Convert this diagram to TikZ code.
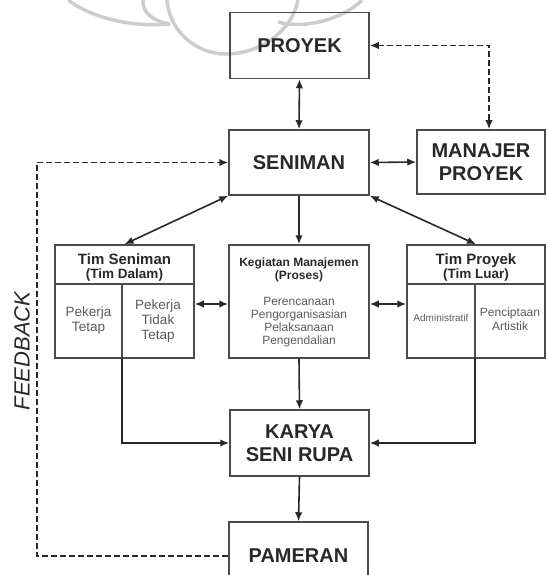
\documentclass[tikz,border=0pt]{standalone}
\usepackage{fontspec}
\setmainfont{Liberation Sans}
\usetikzlibrary{arrows.meta}
\definecolor{boxc}{RGB}{75,75,75}
\definecolor{txt}{RGB}{40,40,40}
\definecolor{soft}{RGB}{90,90,90}
\definecolor{wm}{RGB}{205,205,205}
\begin{document}
\begin{tikzpicture}[x=1pt,y=-1pt,
  box/.style={draw=boxc,line width=1.5pt,inner sep=0pt,text=txt},
  bigf/.style={font=\fontsize{20}{23.5}\selectfont\bfseries},
  hdA/.style={font=\fontsize{15}{16}\selectfont\bfseries,text=txt,anchor=base,inner sep=0pt},
  hdB/.style={font=\fontsize{13.5}{16}\selectfont\bfseries,text=txt,anchor=base,inner sep=0pt},
  kgA/.style={font=\fontsize{12}{13}\selectfont\bfseries,text=txt,anchor=base,inner sep=0pt},
  bodyA/.style={font=\fontsize{13.5}{15}\selectfont,text=soft,anchor=base,inner sep=0pt},
  bodyB/.style={font=\fontsize{12}{13}\selectfont,text=soft,anchor=base,inner sep=0pt},
  bodyC/.style={font=\fontsize{10}{12}\selectfont,text=soft,anchor=base,inner sep=0pt},
  divl/.style={draw=boxc,line width=1.1pt},
  conn/.style={draw=txt,line width=1.6pt},
  ar/.style={conn,-{Latex[length=9pt,width=7.5pt]}},
  dar/.style={conn,{Latex[length=9pt,width=7.5pt]}-{Latex[length=9pt,width=7.5pt]}},
  dsh/.style={dash pattern=on 6pt off 3pt}
]
\useasboundingbox (0,0) rectangle (546,575);
% watermark
\begin{scope}[draw=wm,line width=3.5pt]
  \draw (68,0) .. controls (95,20) and (135,27) .. (170,24);
  \draw (143,0) .. controls (142,12) and (152,21) .. (170,24);
  \draw (167,0) .. controls (170,35) and (200,54) .. (225,54) .. controls (262,54) and (292,30) .. (298,0);
  \draw (278,22) .. controls (305,30) and (345,18) .. (362,0);
\end{scope}
% boxes
\node[box,bigf,minimum width=139,minimum height=66] (proyek) at (299.5,45.5) {PROYEK};
\node[box,bigf,minimum width=140,minimum height=65] (seniman) at (299,162.5) {SENIMAN};
\node[box,bigf,align=center,minimum width=128,minimum height=64] (manajer) at (481,162) {MANAJER\\PROYEK};
\node[box,minimum width=139,minimum height=113] (timsen) at (124.5,301.5) {};
\node[box,minimum width=140,minimum height=113] (keg) at (299,301.5) {};
\node[box,minimum width=138,minimum height=113] (timpro) at (476,301.5) {};
\node[box,bigf,align=center,minimum width=139,minimum height=66] (karya) at (299.5,443) {KARYA\\SENI RUPA};
\node[box,bigf,minimum width=139,minimum height=68] (pameran) at (298.5,556) {PAMERAN};
% inner dividers
\draw[divl] (55,284) -- (194,284);
\draw[divl] (122,284) -- (122,358);
\draw[divl] (407,284) -- (545,284);
\draw[divl] (475,284) -- (475,358);
\coordinate (tsb) at (122,358);
\coordinate (tpb) at (475,358);
% Tim Seniman texts
\node[hdA] (ts1) at (124.5,264) {Tim Seniman};
\node[hdB] (ts2) at (124.5,278.5) {(Tim Dalam)};
\node[bodyA] (ts3) at (88.5,316) {Pekerja};
\node[bodyA] (ts4) at (88.5,331) {Tetap};
\node[bodyA] (ts5) at (158,309) {Pekerja};
\node[bodyA] (ts6) at (158,324) {Tidak};
\node[bodyA] (ts7) at (158,339) {Tetap};
% Kegiatan texts
\node[kgA] (kg1) at (299,266) {Kegiatan Manajemen};
\node[kgA] (kg2) at (299,279) {(Proses)};
\node[bodyB] (kg3) at (299,305) {Perencanaan};
\node[bodyB] (kg4) at (299,318) {Pengorganisasian};
\node[bodyB] (kg5) at (299,331) {Pelaksanaan};
\node[bodyB] (kg6) at (299,344) {Pengendalian};
% Tim Proyek texts
\node[hdA] (tp1) at (476,264) {Tim Proyek};
\node[hdB] (tp2) at (476,278.5) {(Tim Luar)};
\node[bodyC] (tp3) at (441,321) {Administratif};
\node[bodyB] (tp4) at (510,316) {Penciptaan};
\node[bodyB] (tp5) at (510,330) {Artistik};
% feedback label
\node[font=\fontsize{22}{22}\selectfont\itshape,text=txt,rotate=90,inner sep=0pt] (fbl) at (22,351) {FEEDBACK};
\coordinate (fbx) at (37,350);
% connectors
\draw[dar] (proyek.south) -- (seniman.north);
\draw[dar,dsh] (proyek.east) -| ([xshift=8pt]manajer.north);
\draw[dar] (seniman.east) -- (manajer.west);
\draw[dar] (seniman.south west) -- (timsen.north);
\draw[ar] (seniman.south) -- (keg.north);
\draw[dar] (seniman.south east) -- (timpro.north);
\draw[dar] ([yshift=-2.5pt]timsen.east) -- ([yshift=-2.5pt]keg.west);
\draw[dar] ([yshift=-2.5pt]keg.east) -- ([yshift=-2.5pt]timpro.west);
\draw[ar] (keg.south) -- (karya.north);
\draw[ar] (tsb) |- (karya.west);
\draw[ar] (tpb) |- (karya.east);
\draw[ar] (karya.south) -- (pameran.north);
\draw[ar,dsh] (pameran.west) -| (fbx) |- (seniman.west);
\end{tikzpicture}
\end{document}
